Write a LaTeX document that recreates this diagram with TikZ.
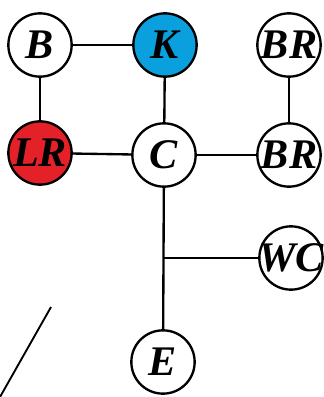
\documentclass[tikz,border=0pt]{standalone}
\usepackage{fontspec}
\setmainfont{Liberation Serif}
\usepackage{xcolor}
\usepackage{tikz}
\definecolor{roomblue}{RGB}{10,160,222}
\definecolor{roomred}{RGB}{228,32,40}
\newcommand{\room}[4]{%
  \node[room,fill=#4] (#1) at (#2) {\makebox[0pt]{#3}};}

\begin{document}
\begin{tikzpicture}[
    room/.style={circle,draw=black,line width=2pt,minimum size=1.9cm,inner sep=0pt,
      font=\fontsize{36}{36}\selectfont\bfseries\itshape},
    wall/.style={line width=2pt}]
  \useasboundingbox (0,0) rectangle (9.72,11.91);
  \room{b}{1.2,10.56}{B}{white}
  \room{k}{4.95,10.56}{K}{roomblue}
  \room{brtop}{8.67,10.56}{BR}{white}
  \room{lr}{1.2,7.32}{LR}{roomred}
  \room{c}{4.92,7.26}{C}{white}
  \room{brmid}{8.67,7.26}{BR}{white}
  \room{wc}{8.73,4.17}{WC}{white}
  \room{e}{4.89,1.05}{E}{white}
  \coordinate (hall) at (c |- wc);
  \draw[wall] (b) -- (k);
  \draw[wall] (b) -- (lr);
  \draw[wall] (k) -- (c);
  \draw[wall] (lr) -- (c);
  \draw[wall] (c) -- (brmid);
  \draw[wall] (brtop) -- (brmid);
  \draw[wall] (c) -- (e);
  \draw[wall] (hall) -- (wc);
  \draw[line width=1.6pt] (1.53,2.7) -- (0,0);
\end{tikzpicture}
\end{document}
